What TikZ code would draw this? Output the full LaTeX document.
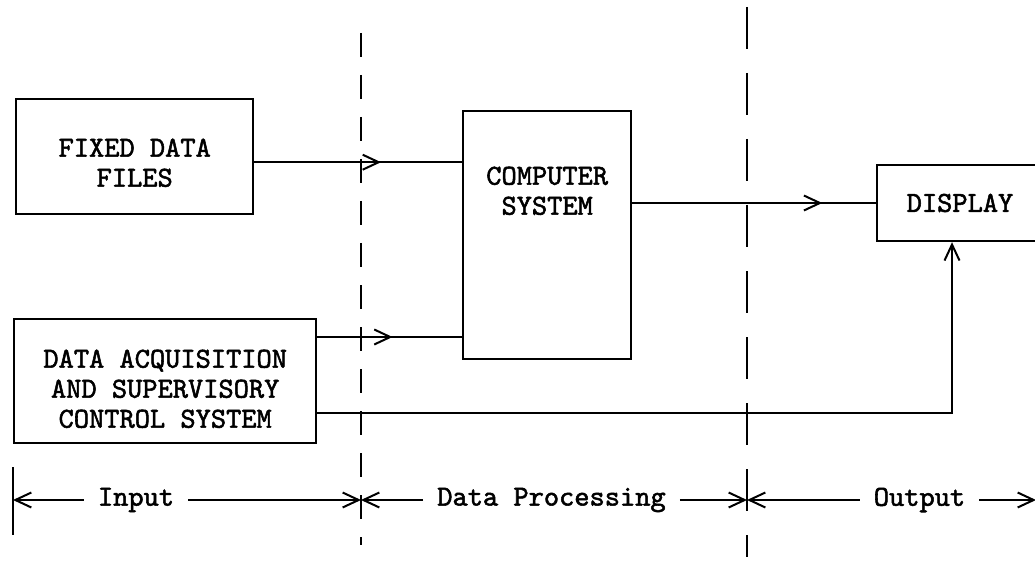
\documentclass[tikz,border=0pt]{standalone}
\usepackage{fontspec}
\newfontfamily\typewr{lmmono10-regular.otf}[FakeBold=1.8]
\usetikzlibrary{arrows.meta, positioning, decorations.markings}

\begin{document}
\begin{tikzpicture}[
  x=1pt, y=-1pt,
  box/.style={draw, line width=2.4pt, align=center, inner sep=0pt,
              font=\typewr\fontsize{29}{30}\selectfont},
  zone/.style={font=\typewr\fontsize{29}{30}\selectfont, inner xsep=14pt, inner ysep=0pt},
  link/.style={line width=2pt},
  arr/.style={line width=2pt, -{Straight Barb[length=16pt, width=15pt]}},
  tipat/.style={link, decoration={markings,
              mark=at position #1 with {\arrow{Straight Barb[length=16pt, width=15pt]}}},
              postaction={decorate}},
  divider/.style={line width=2.6pt, dash pattern=on 24pt off 18pt},
  divider2/.style={line width=2.6pt, dash pattern=on 42pt off 24pt},
]
\useasboundingbox (0,0) rectangle (1035,561);

% --- input side ---
\node[box, anchor=north west, minimum width=237pt, text height=87.5pt, text depth=27.5pt]
  (files) at (15,98) {FIXED DATA\\ FILES};
\node[box, anchor=north west, minimum width=302pt, text height=108.5pt, text depth=15.5pt]
  (daq) at (13,318) {DATA ACQUISITION\\ AND SUPERVISORY\\ CONTROL SYSTEM};

% --- processing and output ---
\node[box, anchor=north west, minimum width=168pt, text height=103.5pt, text depth=144.5pt]
  (comp) at (462,110) {COMPUTER\\ SYSTEM};
\node[box, minimum width=166pt, minimum height=76pt] (disp) at (960,203) {DISPLAY};

% --- boundaries between the three stages ---
\coordinate (d1top) at (361,33);
\coordinate (d1bot) at (361,545);
\coordinate (d2top) at (747,7);
\coordinate (d2bot) at (747,557);
\draw[divider] (d1top) -- (d1bot);
\draw[divider2] (d2top) -- (d2bot);

% --- data flow ---
\draw[tipat=0.61] ([yshift=-5.5pt]files.east) -- ([yshift=-5.5pt]files.east -| comp.west);
\draw[tipat=0.52] ([yshift=-19pt]daq.north east) -- ([yshift=-19pt]daq.north east -| comp.west);
\draw[tipat=0.78] (disp.west -| comp.east) -- (disp.west);
\draw[arr] ([yshift=-95pt]daq.north east) -| ([xshift=-8pt]disp.south);

% --- stage labels along the bottom ---
\coordinate (lft) at (13,500);
\coordinate (rgt) at (1036,500);
\node[zone] (input) at (136,500) {Input};
\node[zone] (proc) at (551.5,500) {Data Processing};
\node[zone] (output) at (919.5,500) {Output};

\draw[link] ([yshift=33pt]lft) -- ([yshift=-35pt]lft);
\draw[arr] (input.west) -- (input.west -| lft);
\draw[arr] (input.east) -- (input.east -| d1top);
\draw[arr] (proc.west) -- (proc.west -| d1top);
\draw[arr] (proc.east) -- (proc.east -| d2top);
\draw[arr] (output.west) -- (output.west -| d2top);
\draw[arr] (output.east) -- (output.east -| rgt);

\end{tikzpicture}
\end{document}
